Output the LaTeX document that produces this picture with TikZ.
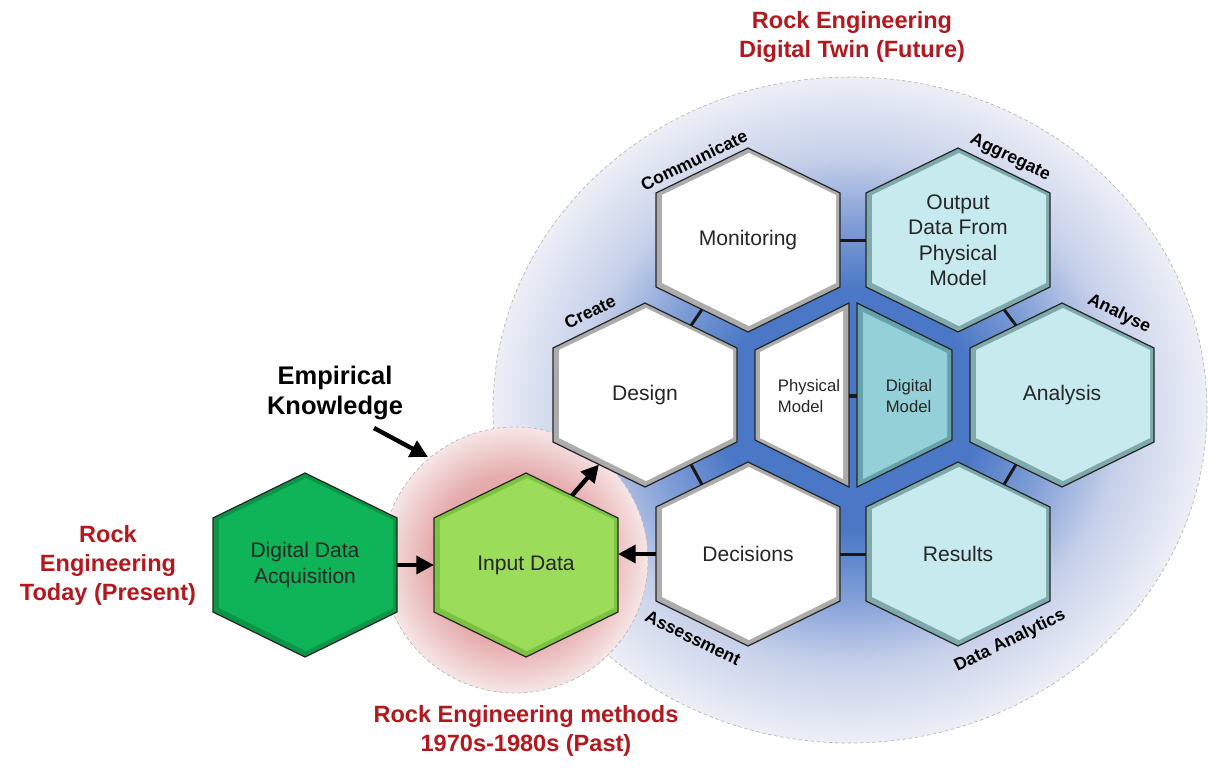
\documentclass[tikz,border=0pt]{standalone}
\usepackage{fontspec}
\setmainfont{Liberation Sans}
\usetikzlibrary{arrows.meta,calc}

\definecolor{twinred}{RGB}{178,24,30}
\definecolor{hubblue}{RGB}{74,120,198}
\definecolor{midblue}{RGB}{128,158,214}
\definecolor{paleblue}{RGB}{198,208,233}
\definecolor{rimblue}{RGB}{237,239,246}
\definecolor{pastcore}{RGB}{224,150,154}
\definecolor{pastmid}{RGB}{230,172,173}
\definecolor{pastrim}{RGB}{246,230,230}
\definecolor{ddaface}{RGB}{16,180,88}
\definecolor{ddarim}{RGB}{10,150,70}
\definecolor{inpface}{RGB}{155,220,90}
\definecolor{inprim}{RGB}{125,195,66}
\definecolor{greyrim}{RGB}{172,172,172}
\definecolor{cyanface}{RGB}{198,234,237}
\definecolor{cyanrim}{RGB}{126,170,172}
\definecolor{digface}{RGB}{148,208,215}
\definecolor{digrim}{RGB}{102,162,169}

\pgfdeclareradialshading{twinglow}{\pgfpoint{0bp}{0bp}}{color(0bp)=(hubblue); color(9bp)=(hubblue); color(14bp)=(midblue); color(19bp)=(paleblue); color(25bp)=(rimblue); color(50bp)=(rimblue)}
\pgfdeclareradialshading{pastglow}{\pgfpoint{0bp}{0bp}}{color(0bp)=(pastcore); color(16bp)=(pastmid); color(25bp)=(pastrim); color(50bp)=(pastrim)}

\begin{document}
\begin{tikzpicture}[x=0.02cm,y=-0.02cm,>=latex,
    hextext/.style={align=center,text=black!85,font=\fontsize{12}{14.5}\selectfont},
    halftext/.style={align=left,text=black!85,font=\fontsize{9.5}{11.5}\selectfont},
    era/.style={align=center,text=twinred,font=\bfseries\fontsize{13.4}{16.5}\selectfont},
    verb/.style={font=\bfseries\fontsize{10}{12}\selectfont},
    hexline/.style={draw=black!85,line width=0.7pt,line join=miter},
    rimline/.style={draw=gray!55,line width=0.4pt,dash pattern=on 2pt off 1.5pt},
    link/.style={draw=black!90,line width=1.7pt},
    flow/.style={draw=black,line width=2.5pt,-{Triangle[length=10pt,width=10pt]}}]
    \useasboundingbox (0,0) rectangle (1213,772);
    % the two eras as glowing discs
    \shade[shading=twinglow] (850,410) ellipse [x radius=357,y radius=333];
    \draw[rimline] (850,410) ellipse [x radius=357,y radius=333];
    \shade[shading=pastglow] (515,560) circle (133);
    \draw[rimline] (515,560) circle (133);
    % hexagon cells
    \foreach \n/\p/\f/\r/\t in {
        dda/{305,565}/ddaface/ddarim/{Digital Data\\Acquisition},
        inp/{526,565}/inpface/inprim/{Input Data},
        mon/{748,240}/white/greyrim/{Monitoring},
        des/{645,395}/white/greyrim/{Design},
        dec/{748,554}/white/greyrim/{Decisions},
        out/{958,240}/cyanface/cyanrim/{Output\\Data From\\Physical\\Model},
        ana/{1062,395}/cyanface/cyanrim/{Analysis},
        res/{958,554}/cyanface/cyanrim/{Results}}
    {
      \begin{scope}[shift={(\p)}]
        \fill[\r] (0,-92) -- (92,-47) -- (92,47) -- (0,92) -- (-92,47) -- (-92,-47) -- cycle;
        \fill[\f] (1,-87) -- (88,-45) -- (88,43) -- (1,86) -- (-86,43) -- (-86,-45) -- cycle;
        \draw[hexline] (0,-92) -- (92,-47) -- (92,47) -- (0,92) -- (-92,47) -- (-92,-47) -- cycle;
        \node[hextext] (\n) at (0,0) {\t};
        \coordinate (\n-e) at (92,0);
        \coordinate (\n-w) at (-92,0);
        \coordinate (\n-ne) at (46,-69.5);
        \coordinate (\n-nw) at (-46,-69.5);
        \coordinate (\n-se) at (46,69.5);
        \coordinate (\n-sw) at (-46,69.5);
      \end{scope}
    }
    % split model cell
    \fill[greyrim] (849,303) -- (755,350) -- (755,440) -- (849,487) -- cycle;
    \fill[white] (843,311) -- (760,352) -- (760,438) -- (843,479) -- cycle;
    \draw[hexline] (849,303) -- (755,350) -- (755,440) -- (849,487) -- cycle;
    \fill[digrim] (857,303) -- (952,350) -- (952,440) -- (857,487) -- cycle;
    \fill[digface] (863,312) -- (947,353) -- (947,437) -- (863,479) -- cycle;
    \draw[hexline] (857,303) -- (952,350) -- (952,440) -- (857,487) -- cycle;
    \node[halftext] (phy) at (809,396) {Physical\\Model};
    \node[halftext] (dig) at (909,396) {Digital\\Model};
    \coordinate (phy-e) at (849,396);
    \coordinate (dig-w) at (857,396);
    % links inside the twin
    \draw[link] (mon-e) -- (out-w);
    \draw[link] (dec-e) -- (res-w);
    \draw[link] (mon-sw) -- (des-ne);
    \draw[link] (out-se) -- (ana-nw);
    \draw[link] (des-se) -- (dec-nw);
    \draw[link] (ana-sw) -- (res-ne);
    \draw[link,line width=2.5pt] (phy-e) -- (dig-w);
    % flows
    \draw[flow] (dda-e) -- (inp-w);
    \draw[flow] (dec-w) -- (dec-w -| inp-e);
    \draw[flow] (inp-ne) -- (des-sw);
    \node[era,text=black,font=\bfseries\fontsize{14.5}{17}\selectfont] (emp) at (335,393) {Empirical\\Knowledge};
    \coordinate (emp-a) at (374,428);
    \coordinate (emp-b) at (428,457);
    \draw[flow] (emp-a) -- (emp-b);
    % eras
    \node[era] (future) at (852,37) {Rock Engineering\\Digital Twin (Future)};
    \node[era] (present) at (108,565) {Rock\\Engineering\\Today (Present)};
    \node[era] (past) at (526,731) {Rock Engineering methods\\1970s-1980s (Past)};
    % verbs along the cells
    \node[verb,rotate=26] (communicate) at (694,160) {Communicate};
    \node[verb,rotate=-26] (aggregate) at (1010,158) {Aggregate};
    \node[verb,rotate=26] (create) at (590,312) {Create};
    \node[verb,rotate=-26] (analyse) at (1119,314) {Analyse};
    \node[verb,rotate=-26] (assessment) at (693,638) {Assessment};
    \node[verb,rotate=26] (analytics) at (1010,641) {Data Analytics};
\end{tikzpicture}
\end{document}
